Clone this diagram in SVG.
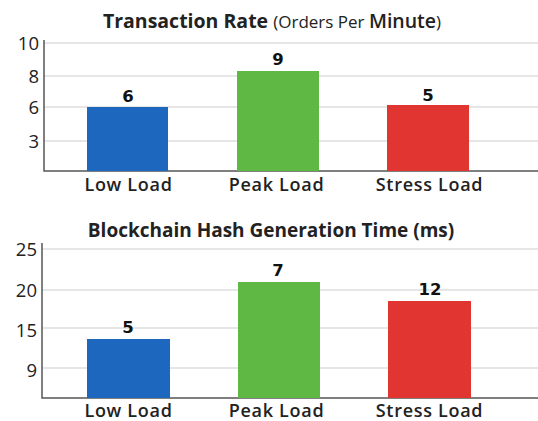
<svg xmlns="http://www.w3.org/2000/svg" width="538" height="421" viewBox="0 0 538 421">
<style>
.grid{stroke:#dedede;stroke-width:1.5}
.axis{stroke:#555;stroke-width:1.5;fill:none}
.tick{font-family:"Open Sans",sans-serif;font-size:18.5px;fill:#222;text-anchor:end}
.cat{font-family:"Open Sans",sans-serif;font-size:18px;font-weight:600;fill:#222;text-anchor:middle;letter-spacing:0.7px}
.val{font-family:"DejaVu Sans",sans-serif;font-size:16.5px;font-weight:bold;fill:#111;text-anchor:middle}
.title{font-family:"Open Sans",sans-serif;font-weight:700;fill:#222;text-anchor:middle}
.blue{fill:#1e67be}.green{fill:#5fb844}.red{fill:#e03530}
</style>
<rect width="538" height="421" fill="#fff"/>
<g id="chart1">
<text class="title" x="272" y="28" font-size="19.5">Transaction Rate <tspan font-weight="400" font-size="17">(Orders Per </tspan><tspan font-weight="600" font-size="19.5">Minute</tspan><tspan font-weight="400" font-size="17">)</tspan></text>
<line class="grid" x1="44" y1="43" x2="538" y2="43"/>
<line class="grid" x1="44" y1="76" x2="538" y2="76"/>
<line class="grid" x1="44" y1="107" x2="538" y2="107"/>
<line class="grid" x1="44" y1="141" x2="538" y2="141"/>
<path class="axis" d="M44 40 V171 H538"/>
<text class="tick" x="39" y="50">10</text>
<text class="tick" x="39" y="83">8</text>
<text class="tick" x="39" y="114">6</text>
<text class="tick" x="39" y="148">3</text>
<g id="bar1-low"><rect class="blue" x="87" y="107" width="81" height="64"/><text class="val" x="128" y="102">6</text><text class="cat" x="128.5" y="191">Low Load</text></g>
<g id="bar1-peak"><rect class="green" x="237" y="71" width="82" height="100"/><text class="val" x="278" y="65">9</text><text class="cat" x="276.5" y="191">Peak Load</text></g>
<g id="bar1-stress"><rect class="red" x="387" y="105" width="82" height="66"/><text class="val" x="428" y="101">5</text><text class="cat" x="429.5" y="191">Stress Load</text></g>
</g>
<g id="chart2">
<text class="title" x="271" y="237" font-size="19" font-weight="600">Blockchain Hash Generation Time (ms)</text>
<line class="grid" x1="42" y1="249" x2="538" y2="249"/>
<line class="grid" x1="42" y1="290" x2="538" y2="290"/>
<line class="grid" x1="42" y1="328" x2="538" y2="328"/>
<line class="grid" x1="42" y1="368" x2="538" y2="368"/>
<path class="axis" d="M42 243 V398 H538"/>
<text class="tick" x="37" y="256">25</text>
<text class="tick" x="37" y="297">20</text>
<text class="tick" x="37" y="337">15</text>
<text class="tick" x="37" y="377">9</text>
<g id="bar2-low"><rect class="blue" x="87" y="339" width="83" height="59"/><text class="val" x="128" y="333">5</text><text class="cat" x="128.5" y="417">Low Load</text></g>
<g id="bar2-peak"><rect class="green" x="238" y="282" width="82" height="116"/><text class="val" x="278" y="276">7</text><text class="cat" x="276.5" y="417">Peak Load</text></g>
<g id="bar2-stress"><rect class="red" x="388" y="301" width="83" height="97"/><text class="val" x="430" y="295">12</text><text class="cat" x="429.5" y="417">Stress Load</text></g>
</g>
</svg>
